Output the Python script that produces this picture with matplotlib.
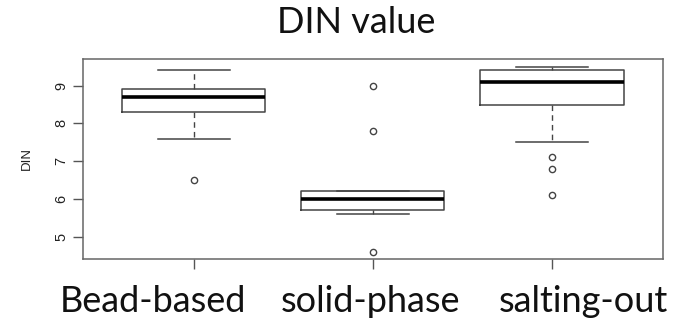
import matplotlib
matplotlib.use("Agg")
import matplotlib.pyplot as plt

categories = ["Bead-based", "solid-phase", "salting-out"]
medians = [8.7, 6.0, 9.1]
q1 = [8.3, 5.7, 8.5]
q3 = [8.9, 6.2, 9.4]
whisker_low = [7.6, 5.6, 7.5]
whisker_high = [9.4, 6.2, 9.5]
outliers = [[6.5], [9.0, 7.8, 4.6], [7.1, 6.8, 6.1]]
yticks = [5, 6, 7, 8, 9]

W, H = 676, 320
fig = plt.figure(figsize=(W / 100, H / 100), dpi=100)
ax = fig.add_axes([82.7 / W, 1 - 259.3 / H, (663 - 82.7) / W, (259.3 - 59.3) / H])

stats = []
for i in range(len(categories)):
    stats.append(dict(med=medians[i], q1=q1[i], q3=q3[i],
                      whislo=whisker_low[i], whishi=whisker_high[i],
                      fliers=outliers[i], label=""))

gray = "#444444"
ax.bxp(stats, positions=[1, 2, 3], widths=0.8,
       boxprops=dict(color=gray, linewidth=1.1),
       medianprops=dict(color="black", linewidth=2.6),
       whiskerprops=dict(color=gray, linewidth=1.0, linestyle=(0, (4, 3))),
       capprops=dict(color=gray, linewidth=1.1),
       capwidths=0.4,
       flierprops=dict(marker="o", markersize=4.5, markerfacecolor="none",
                       markeredgecolor=gray, markeredgewidth=1.0))

data_lo, data_hi = 4.6, 9.5
r = data_hi - data_lo
ax.set_ylim(data_lo - 0.04 * r, data_hi + 0.04 * r)
ax.set_xlim(0.38, 3.62)
ax.set_yticks(yticks)
ax.set_yticklabels([str(v) for v in yticks], rotation=90, va="center",
                   fontsize=10.5, family="Liberation Sans", color="#222222")
ax.set_xticks([1, 2, 3])
ax.set_xticklabels(["", "", ""])
ax.tick_params(axis="both", direction="out", length=7, width=1.0,
               color="#555555")
ax.tick_params(axis="y", pad=3.5)
for s in ax.spines.values():
    s.set_color("#666666")
    s.set_linewidth(1.1)

fig.text(27 / W, 1 - 158.7 / H, "DIN", rotation=90, ha="center", va="center",
         fontsize=9.5, family="Liberation Sans", color="#222222")

fig.text(356 / W, 1 - 33 / H, "DIN value", ha="center", va="baseline",
         fontsize=26, family="Lato", color="#111111")

label_x = [152.5, 370, 583]
for lx, lab in zip(label_x, categories):
    fig.text(lx / W, 1 - 311.7 / H, lab, ha="center", va="baseline",
             fontsize=26, family="Lato", color="#111111")

fig.savefig("out.png", dpi=100)
